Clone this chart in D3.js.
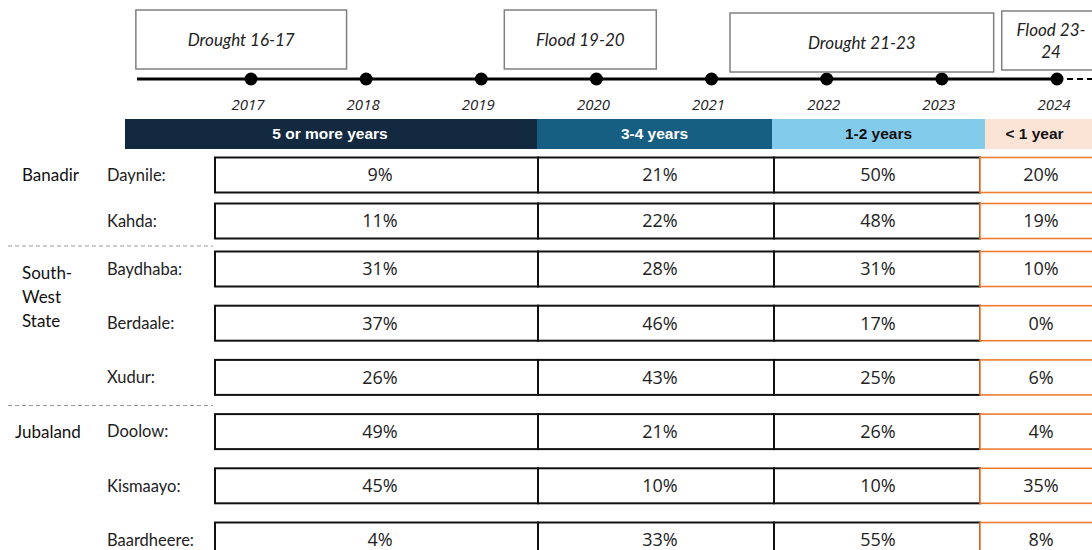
<!DOCTYPE html>
<html><head><meta charset="utf-8">
<script src="https://cdn.jsdelivr.net/npm/d3@7/dist/d3.min.js"></script>
<style>
html,body{margin:0;padding:0;background:#fff;overflow:hidden}
svg{display:block}
</style></head>
<body>
<svg id="chart" width="1092" height="550"></svg>
<script>
// ---- data ----
const years = [2017, 2018, 2019, 2020, 2021, 2022, 2023, 2024];
const events = ["Drought 16-17", "Flood 19-20", "Drought 21-23", "Flood 23-24"];
const eventStart = [2016.0, 2019.2, 2021.16, 2023.52];
const eventEnd = [2017.83, 2020.52, 2023.45, 2024.4];
const categories = ["5 or more years", "3-4 years", "1-2 years", "< 1 year"];
const regions = ["Banadir", "South-West State", "Jubaland"];
const districts = ["Daynile", "Kahda", "Baydhaba", "Berdaale", "Xudur", "Doolow", "Kismaayo", "Baardheere"];
const districtRegion = ["Banadir", "Banadir", "South-West State", "South-West State", "South-West State", "Jubaland", "Jubaland", "Jubaland"];
const fiveOrMore = [9, 11, 31, 37, 26, 49, 45, 4];
const threeToFour = [21, 22, 28, 46, 43, 21, 10, 33];
const oneToTwo = [50, 48, 31, 17, 25, 26, 10, 55];
const underOne = [20, 19, 10, 0, 6, 4, 35, 8];

// ---- layout ----
const svg = d3.select("#chart");
const seriesVals = [fiveOrMore, threeToFour, oneToTwo, underOne];

const xYear = d3.scaleLinear().domain([2017, 2024]).range([251, 1057]);
const rowY = d3.scaleLinear().domain([0, 1, 2, 7]).range([175, 221, 269, 540]);
const colStart = d3.scaleOrdinal().domain(categories).range([215, 538, 774, 980]);
const colEnd = d3.scaleOrdinal().domain(categories).range([538, 774, 980, 1100]);
const hdrStart = d3.scaleOrdinal().domain(categories).range([125, 537, 772, 985]);
const hdrEnd = d3.scaleOrdinal().domain(categories).range([537, 772, 985, 1092]);
const hdrFill = d3.scaleOrdinal().domain(categories).range(["#12293f", "#175e83", "#83cbeb", "#fbe3d6"]);
const hdrText = d3.scaleOrdinal().domain(categories).range(["#ffffff", "#ffffff", "#111111", "#111111"]);
const cellStroke = d3.scaleOrdinal().domain(categories).range(["#111", "#111", "#111", "#ed7d31"]);
const cellLabelX = d3.scaleOrdinal().domain(categories).range([380, 660, 878, 1041]);

const labelFont = "Lato, 'Open Sans', sans-serif";
const numFont = "'Open Sans', 'Noto Sans', sans-serif";

// ---- timeline ----
const tlY = 79;
svg.append("line").attr("x1", 137).attr("x2", xYear(2024)).attr("y1", tlY).attr("y2", tlY)
  .attr("stroke", "#000").attr("stroke-width", 3);
svg.append("line").attr("x1", xYear(2024)).attr("x2", 1092).attr("y1", tlY).attr("y2", tlY)
  .attr("stroke", "#000").attr("stroke-width", 2).attr("stroke-dasharray", "6,4");
svg.selectAll("circle.yr").data(years).join("circle").attr("class", "yr")
  .attr("cx", d => xYear(d)).attr("cy", tlY).attr("r", 6.5).attr("fill", "#000");
svg.selectAll("text.yr").data(years).join("text").attr("class", "yr")
  .attr("x", d => xYear(d) - 3).attr("y", 110).attr("text-anchor", "middle")
  .attr("font-family", numFont).attr("font-style", "italic").attr("font-size", 15)
  .attr("fill", "#222").text(d => d);

// event boxes
const evTop = [10, 10, 13, 11];
const evG = svg.selectAll("g.ev").data(events).join("g").attr("class", "ev");
evG.append("rect")
  .attr("x", (d, i) => xYear(eventStart[i]))
  .attr("width", (d, i) => xYear(eventEnd[i]) - xYear(eventStart[i]))
  .attr("y", (d, i) => evTop[i]).attr("height", 59)
  .attr("fill", "#fff").attr("stroke", "#808080").attr("stroke-width", 1.5);
evG.each(function (d, i) {
  const g = d3.select(this);
  const cx = i === 3 ? 1051 : (xYear(eventStart[i]) + xYear(eventEnd[i])) / 2;
  const lines = i === 3 ? ["Flood 23-", "24"] : [d];
  const cy = evTop[i] + 30;
  lines.forEach((ln, k) => {
    g.append("text").attr("x", cx).attr("y", cy + (k - (lines.length - 1) / 2) * 22)
      .attr("dy", "0.35em").attr("text-anchor", "middle")
      .attr("font-family", labelFont).attr("font-style", "italic").attr("font-size", 17)
      .attr("fill", "#222").text(ln);
  });
});

// ---- header ----
const hdr = svg.selectAll("g.hdr").data(categories).join("g").attr("class", "hdr");
hdr.append("rect").attr("x", d => hdrStart(d)).attr("y", 119)
  .attr("width", d => hdrEnd(d) - hdrStart(d)).attr("height", 30).attr("fill", d => hdrFill(d));
hdr.append("text").attr("x", d => (hdrStart(d) + hdrEnd(d)) / 2 + (d === "< 1 year" ? -4 : (d === "5 or more years" ? -1 : 0)))
  .attr("y", 134).attr("dy", "0.35em").attr("text-anchor", "middle")
  .attr("font-family", "'Liberation Sans', Arial, sans-serif").attr("font-weight", "bold")
  .attr("font-size", 15.5).attr("fill", d => hdrText(d)).text(d => d);

// ---- separators ----
const sepRows = [1.5, 4.5];
svg.selectAll("line.sep").data(sepRows).join("line").attr("class", "sep")
  .attr("x1", 8).attr("x2", 213).attr("y1", d => (rowY(Math.floor(d)) + rowY(Math.ceil(d))) / 2 + 1)
  .attr("y2", d => (rowY(Math.floor(d)) + rowY(Math.ceil(d))) / 2 + 1)
  .attr("stroke", "#9a9a9a").attr("stroke-width", 1).attr("stroke-dasharray", "4,3");

// ---- region labels ----
const regionLines = { "Banadir": ["Banadir"], "South-West State": ["South-", "West", "State"], "Jubaland": ["Jubaland"] };
regions.forEach(r => {
  const idx = districtRegion.map((d, i) => d === r ? i : -1).filter(i => i >= 0);
  const lines = regionLines[r];
  const y0 = r === "South-West State" ? rowY(idx[0]) + 4 : rowY(idx[0]);
  lines.forEach((ln, k) => {
    svg.append("text").attr("x", r === "Jubaland" ? 15 : 22).attr("y", y0 + k * 24)
      .attr("dy", "0.35em").attr("font-family", labelFont).attr("font-size", 17)
      .attr("fill", "#111").text(ln);
  });
});

// ---- district labels ----
svg.selectAll("text.dist").data(districts).join("text").attr("class", "dist")
  .attr("x", 107).attr("y", (d, i) => rowY(i)).attr("dy", "0.35em")
  .attr("font-family", labelFont).attr("font-size", 16.5).attr("fill", "#222")
  .text(d => d + ":");

// ---- cells ----
const cellH = 35;
categories.forEach((c, ci) => {
  const vals = seriesVals[ci];
  svg.selectAll("rect.cell" + ci).data(vals).join("rect").attr("class", "cell" + ci)
    .attr("x", colStart(c)).attr("width", colEnd(c) - colStart(c))
    .attr("y", (d, i) => rowY(i) - cellH / 2).attr("height", cellH)
    .attr("fill", "#fff").attr("stroke", cellStroke(c)).attr("stroke-width", ci === 3 ? 1.6 : 2);
});
categories.forEach((c, ci) => {
  const vals = seriesVals[ci];
  svg.selectAll("text.cell" + ci).data(vals).join("text").attr("class", "cell" + ci)
    .attr("x", cellLabelX(c)).attr("y", (d, i) => rowY(i)).attr("dy", "0.36em")
    .attr("text-anchor", "middle").attr("font-family", numFont).attr("font-size", 18)
    .attr("fill", "#222").text(d => d + "%");
});
</script>
</body></html>
